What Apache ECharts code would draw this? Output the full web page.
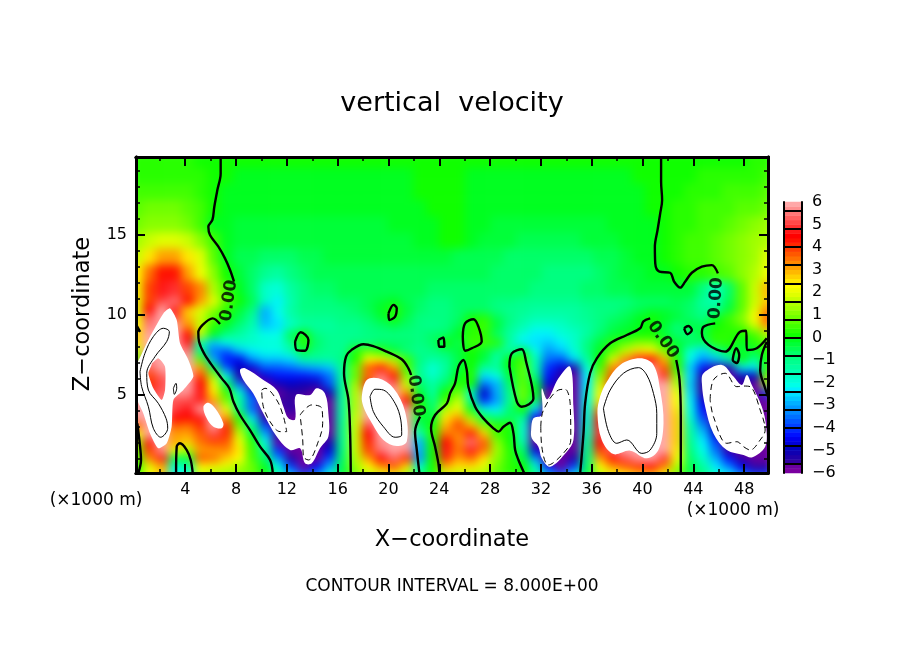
<!DOCTYPE html>
<html>
<head>
<meta charset="utf-8">
<title>vertical velocity</title>
<script src="https://cdn.jsdelivr.net/npm/echarts@6/dist/echarts.min.js"></script>
<style>
html,body{margin:0;padding:0;background:#fff}
#main{width:904px;height:654px}
/* the field layer only: soften the cells, keep it inside the plot frame */
#main canvas[data-zr-dom-id="zr_0"]{filter:blur(5px);clip-path:inset(157px 136px 181px 136px)}
</style>
</head>
<body>
<div id="main"></div>
<script>
// field values, one array per row, 1 km columns. low = z 0.4..10.9 (every 0.5 km)
var low00 = [0.2,2.2,2.8,-2.4,-2.0,1.6,1.2,1.0,1.0,0.6, 0.1,-1.4,-2.8,-4.0,-3.2,-2.0,-0.4,0.8,1.4,1.8, 2.0,1.2,-1.0,0.1,1.6,1.4,1.4,1.2,0.6,0.3, 0.0,-1.2,-2.8,-3.8,-2.4,-0.4,1.4,2.0,2.2,2.6, 2.6,2.0,0.8,-0.4,-1.0,-1.8,-2.4,-3.2,-4.0,-4.0];
var low01 = [0.3,1.8,2.8,-2.0,-1.6,2.2,2.0,1.8,1.2,0.8, -0.2,-2.2,-4.0,-5.8,-4.6,-3.0,-0.6,1.2,2.2,3.0, 3.6,2.4,-2.0,0.1,2.8,2.4,2.4,1.8,0.8,0.3, 0.1,-1.8,-4.4,-5.8,-4.0,-0.8,2.2,3.0,3.6,4.0, 4.4,3.2,1.4,-0.6,-1.4,-2.4,-3.4,-4.6,-5.6,-5.6];
var low02 = [0.4,3.2,4.6,-0.6,-0.4,3.6,3.4,2.6,2.2,0.4, -0.8,-3.2,-5.4,-7,-5.8,-4.0,-0.8,1.4,3.0,4.4, 5.2,4.0,-3.2,0.0,4.0,3.0,3.4,2.4,1.0,0.3, -0.4,-3.2,-5.8,-7,-5.4,-1.0,3.0,4.2,5.0,5.6, 5.8,4.8,2.0,-0.8,-1.8,-3.0,-4.4,-5.6,-5.8,-5.8];
var low03 = [0.6,3.8,5.6,2.0,1.4,3.0,3.0,3.2,2.4,0.4, -1.4,-4.2,-5.8,-7,-5.8,-4.8,-1.0,1.6,3.8,5.4, 5.8,5.6,-3.0,0.0,4.6,3.4,4.6,3.4,1.2,0.3, -0.8,-4.8,-7,-7,-5.8,-1.2,3.8,5.2,5.8,7, 7,5.8,2.4,-1.0,-2.2,-3.6,-5.6,-7,-7,-7];
var low04 = [1.0,4.6,5.8,3.0,2.6,3.4,3.8,3.6,2.0,0.2, -2.2,-5.8,-7,-7,-5.8,-5.4,-1.2,1.6,4.0,5.6, 5.8,5.8,-3.0,0.0,4.4,3.2,5.4,3.6,1.0,0.1, -1.6,-5.8,-7,-7,-7,-1.4,4.4,5.6,7,7, 7,5.8,2.6,-1.2,-2.4,-4.0,-5.8,-7,-7,-7];
var low05 = [2.2,5.8,5.8,3.0,3.0,3.6,5.0,4.0,1.6,-0.4, -3.0,-5.4,-7,-7,-7,-5.8,-1.2,1.6,4.4,5.8, 7,5.8,-1.6,0.3,3.4,3.2,4.2,2.6,0.4,0.1, -1.8,-5.8,-7,-7,-7,-1.6,4.8,5.8,7,7, 7,5.8,2.6,-1.4,-2.8,-4.8,-5.8,-7,-7,-7];
var low06 = [3.6,5.8,7,3.6,3.4,4.0,5.8,4.0,0.8,-1.2, -4.0,-5.8,-7,-7,-7,-5.8,-1.2,1.6,5.0,5.8, 7,5.6,-0.8,0.1,2.8,3.8,2.8,1.0,0.3,0.3, -1.8,-5.8,-7,-7,-7,-1.8,4.6,5.8,7,7, 7,5.8,2.6,-1.6,-3.4,-5.2,-5.8,-7,-7,-5.8];
var low07 = [5.8,7,5.8,4.4,4.4,4.6,5.8,3.0,0.2,-2.6, -5.6,-5.8,-5.8,-7,-7,-5.8,-1.4,1.6,5.8,7, 7,5.8,-0.4,-0.3,2.4,3.0,1.2,-0.6,-1.0,-0.8, -1.2,-4.4,-5.8,-7,-5.8,-2.0,4.0,5.8,7,7, 7,5.8,2.6,-2.0,-4.0,-5.8,-7,-7,-7,-5.8];
var low08 = [5.8,7,5.8,5.0,4.6,5.8,5.6,2.0,-1.4,-3.8, -5.8,-5.8,-5.4,-5.8,-5.8,-5.8,-1.4,1.4,5.8,7, 7,5.6,0.2,-0.8,1.4,2.0,-0.2,-2.2,-2.4,-0.8, 0.0,-2.6,-5.8,-7,-5.8,-2.0,3.2,5.8,7,7, 7,5.8,2.4,-2.2,-4.4,-5.8,-7,-7,-7,-5.8];
var low09 = [5.8,5.6,5.4,5.0,5.0,4.6,3.0,0.8,-1.2,-3.6, -5.8,-5.6,-5.6,-5.8,-5.8,-5.8,-1.4,1.4,5.8,7, 7,4.4,0.0,-1.0,0.4,1.6,-1.2,-4.2,-3.2,-1.2, 0.6,-0.8,-5.8,-5.8,-5.8,-2.2,2.4,5.8,7,7, 7,5.8,2.2,-2.4,-4.8,-5.8,-7,-7,-5.8,-5.8];
var low10 = [5.8,4.8,5.2,5.8,5.6,4.6,2.4,0.4,-2.0,-4.2, -5.8,-5.8,-5.6,-5.6,-5.8,-5.2,-1.4,1.4,5.6,5.8, 5.8,3.0,-0.4,-1.4,0.1,0.8,-1.8,-4.9,-3.0,-1.0, 0.8,-0.2,-5.8,-5.8,-5.8,-2.2,2.0,5.6,7,7, 7,5.8,2.0,-2.6,-5.6,-5.8,-5.8,-5.8,-5.8,-4.0];
var low11 = [5.8,4.0,5.0,5.6,5.8,4.4,2.0,-0.6,-3.6,-5.8, -5.8,-5.2,-5.0,-5.2,-5.2,-3.8,-1.2,1.2,4.6,5.8, 5.2,1.6,-0.8,-1.4,-0.8,0.2,0.1,-3.6,-3.0,-0.8, 0.7,-0.4,-4.8,-5.6,-5.8,-2.4,1.6,4.0,5.8,7, 5.8,5.8,1.4,-2.8,-5.6,-5.8,-5.8,-5.6,-5.8,1.6];
var low12 = [5.8,3.8,5.2,5.8,5.8,3.8,1.2,-2.2,-5.4,-5.8, -4.8,-4.4,-4.4,-4.4,-4.2,-3.6,-1.4,0.6,3.4,5.4, 4.2,1.0,-1.2,-1.8,-1.2,-0.2,0.2,-2.6,-2.2,-0.3, 0.6,-1.0,-4.4,-5.6,-5.8,-2.4,1.0,3.6,5.8,5.8, 5.8,4.8,1.0,-2.6,-5.4,-5.8,-5.8,-5.2,-5.0,0.8];
var low13 = [5.8,5.2,5.8,5.8,5.8,3.0,-0.6,-3.8,-5.0,-4.8, -3.8,-3.8,-3.6,-3.2,-3.0,-2.8,-1.2,0.8,3.6,4.2, 3.0,0.5,-1.2,-2.0,-1.4,-0.4,0.1,-1.4,-1.2,-0.1, 0.6,-1.6,-4.2,-4.8,-5.4,-2.0,0.5,3.2,5.2,5.8, 5.6,3.6,0.3,-2.8,-4.4,-5.6,-5.4,-2.4,-2.4,0.3];
var low14 = [0.6,5.6,5.8,5.8,5.8,0.6,-3.0,-4.4,-4.6,-3.2, -2.8,-2.8,-2.6,-1.6,-1.4,-1.4,-1.0,0.1,2.2,2.2, 1.4,0.4,-1.0,-1.4,-1.2,-0.6,0.1,-0.3,-1.6,0.0, 0.5,-1.6,-3.6,-3.8,-2.6,-1.4,0.1,1.8,3.2,4.6, 4.4,2.8,0.2,-2.2,-3.2,-2.8,-1.8,0.1,-1.2,0.0];
var low15 = [1.6,5.8,5.8,5.8,5.4,-1.0,-3.6,-3.8,-2.8,-2.4, -2.2,-2.2,-1.6,-0.4,-1.0,-1.2,-1.2,0.2,0.6,0.2, -0.4,-0.9,-1.2,-0.9,-0.8,-0.3,0.0,-0.3,-1.0,-1.6, -0.3,-2.2,-3.2,-2.8,-2.0,-1.0,-0.2,0.6,1.6,2.4, 2.2,1.0,-0.2,-2.0,-2.6,-1.4,-0.3,-0.4,-0.4,0.2];
var low16 = [2.4,5.8,7,5.8,4.6,-1.6,-2.8,-2.2,-1.8,-1.8, -2.0,-2.0,-1.2,0.2,-0.8,-1.1,-1.1,-1.0,-0.9,-0.8, -0.8,-0.8,-1.0,-0.8,0.1,-0.5,0.5,0.5,0.2,-1.4, -2.4,-2.6,-2.8,-2.4,-1.8,-1.0,-0.4,0.2,0.6,1.0, 1.0,0.2,-0.3,-0.6,-0.8,0.2,0.3,-0.2,0.3,0.6];
var low17 = [2.6,5.8,7,5.8,4.4,1.6,-0.1,-1.0,-1.4,-1.7, -2.2,-2.2,-0.6,0.1,-1.0,-1.2,-1.2,-1.1,-1.0,-0.9, -0.9,-0.9,-1.0,-0.8,-0.8,-0.2,0.3,0.2,-0.8,-1.4, -2.0,-2.4,-2.4,-2.0,-1.7,-1.3,-0.8,-0.4,-0.1,0.1, 0.1,-0.3,-0.8,-0.9,-0.3,0.3,0.3,0.1,0.4,1.4];
var low18 = [2.2,5.4,5.8,5.8,3.2,1.6,0.2,-0.3,-1.0,-1.6, -2.8,-2.6,-1.8,-1.4,-1.3,-1.3,-1.2,-1.1,-0.9,-0.7, -0.5,-0.7,-1.0,-1.1,-1.0,-0.6,0.3,0.4,-0.4,-1.1, -1.6,-1.9,-2.0,-1.8,-1.6,-1.3,-1.0,-0.6,-0.3,-0.1, 0.0,-0.4,-0.9,-0.4,-0.6,0.1,0.3,0.7,1.6,3.0];
var low19 = [1.9,5.2,5.8,5.0,2.8,1.6,0.6,0.1,-0.6,-1.3, -3.0,-2.4,-1.5,-1.2,-1.1,-1.1,-1.0,-0.9,-0.7,-0.4, 0.0,-0.5,-0.9,-1.0,-1.0,-0.8,0.0,0.2,-0.6,-1.0, -1.4,-1.6,-1.6,-1.5,-1.4,-1.2,-1.0,-0.8,-0.5,-0.2, 0.0,-0.2,-0.4,-0.7,-1.0,-0.2,0.4,1.0,2.2,3.6];
var low20 = [1.8,4.4,5.8,4.6,2.6,1.8,1.0,0.3,-0.3,-1.0, -2.9,-2.2,-1.4,-1.0,-1.0,-1.0,-0.9,-0.8,-0.6,-0.2, 0.2,-0.4,-0.8,-0.9,-0.9,-0.8,-0.7,-0.8,-1.0,-1.1, -1.2,-1.3,-1.4,-1.4,-1.3,-1.1,-1.0,-0.9,-0.8,-0.6, -0.4,-0.4,-0.5,-0.8,-1.2,-1.2,-0.3,0.7,1.8,3.2];
var low21 = [1.8,3.8,5.0,5.4,4.4,3.0,2.0,0.6,0.1,-0.6, -1.8,-2.4,-1.6,-1.0,-0.9,-0.9,-0.8,-0.7,-0.6,-0.4, -0.1,-0.5,-0.8,-0.9,-0.9,-0.8,-0.7,-0.8,-0.9,-1.0, -1.1,-1.1,-1.2,-1.2,-1.1,-1.0,-0.9,-0.9,-0.9,-0.8, -0.8,-0.7,-0.6,-0.8,-1.3,-1.6,-0.6,0.6,1.6,2.6];
// up = z 11.6..19.4 (about every 1 km)
var up0 = [2.0,3.8,4.6,4.8,3.8,3.2,1.4,0.5,-0.2,-0.8, -1.8,-2.0,-1.4,-0.9,-0.8,-0.7,-0.6,-0.6,-0.6,-0.6, -0.5,-0.6,-0.6,-0.7,-0.7,-0.7,-0.7,-0.8,-0.8,-0.8, -0.8,-0.9,-0.9,-0.9,-0.9,-0.8,-0.7,-0.6,-0.5,-0.4, -0.3,-0.3,-0.3,-0.3,-1.0,-1.7,-0.8,0.6,1.6,2.9];
var up1 = [2.2,3.4,4.2,4.2,3.0,2.0,1.0,0.1,-0.4,-0.8, -1.2,-1.3,-1.0,-0.8,-0.6,-0.5,-0.5,-0.5,-0.5,-0.5, -0.5,-0.5,-0.5,-0.5,-0.5,-0.5,-0.6,-0.6,-0.7,-0.7, -0.8,-0.8,-0.9,-1.0,-1.0,-0.9,-0.7,-0.6,-0.4,-0.3, -0.2,-0.1,0.1,0.2,0.3,0.4,0.7,1.0,1.4,2.1];
var up2 = [1.6,2.4,3.0,3.0,2.4,1.8,0.6,-0.1,-0.5,-0.6, -0.8,-0.8,-0.7,-0.6,-0.5,-0.4,-0.4,-0.4,-0.4,-0.4, -0.4,-0.4,-0.4,-0.4,-0.4,-0.5,-0.5,-0.6,-0.6,-0.7, -0.7,-0.7,-0.8,-0.8,-0.8,-0.7,-0.6,-0.5,-0.3,-0.2, -0.1,0.1,0.3,0.4,0.5,0.6,0.8,1.0,1.3,1.8];
var up3 = [1.2,1.6,1.9,1.9,1.6,1.1,0.4,-0.2,-0.3,-0.4, -0.4,-0.4,-0.4,-0.3,-0.3,-0.3,-0.3,-0.3,-0.3,-0.3, -0.3,-0.3,-0.2,-0.1,0.0,0.0,-0.1,-0.3,-0.4,-0.4, -0.5,-0.5,-0.5,-0.5,-0.5,-0.4,-0.4,-0.3,-0.2,-0.1, -0.1,0.1,0.3,0.4,0.5,0.6,0.8,1.0,1.2,1.5];
var up4 = [0.8,1.0,1.1,1.1,0.9,0.4,-0.1,-0.2,-0.3,-0.3, -0.3,-0.3,-0.3,-0.3,-0.3,-0.3,-0.3,-0.3,-0.3,-0.3, -0.2,-0.2,-0.1,-0.1,0.0,0.0,-0.1,-0.2,-0.3,-0.3, -0.3,-0.3,-0.3,-0.3,-0.3,-0.3,-0.3,-0.2,-0.2,-0.1, -0.1,0.1,0.2,0.3,0.4,0.5,0.7,0.8,1.0,1.2];
var up5 = [0.7,0.8,0.8,0.8,0.7,0.5,0.1,-0.1,-0.2,-0.2, -0.2,-0.2,-0.2,-0.2,-0.2,-0.2,-0.2,-0.2,-0.2,-0.2, -0.2,-0.1,-0.1,0.0,0.0,0.0,-0.1,-0.1,-0.2,-0.2, -0.2,-0.2,-0.2,-0.2,-0.2,-0.2,-0.2,-0.2,-0.1,-0.1, 0.0,0.1,0.2,0.3,0.4,0.5,0.5,0.6,0.7,0.9];
var up6 = [0.5,0.5,0.5,0.5,0.4,0.3,0.1,-0.1,-0.1,-0.1, -0.1,-0.1,-0.1,-0.1,-0.1,-0.1,-0.1,-0.1,-0.1,-0.1, -0.1,-0.1,0.0,0.0,0.0,0.0,-0.1,-0.1,-0.1,-0.1, -0.1,-0.1,-0.1,-0.1,-0.1,-0.1,-0.1,-0.1,-0.1,-0.1, 0.0,0.1,0.1,0.2,0.3,0.3,0.4,0.4,0.5,0.6];
var up7 = [0.3,0.3,0.3,0.3,0.2,0.2,0.1,0.0,-0.1,-0.1, -0.1,-0.1,-0.1,-0.1,-0.1,-0.1,-0.1,-0.1,-0.1,-0.1, -0.1,-0.1,0.0,0.0,0.0,0.0,-0.1,-0.1,-0.1,-0.1, -0.1,-0.1,-0.1,-0.1,-0.1,-0.1,-0.1,-0.1,-0.1,0.0, 0.0,0.1,0.1,0.1,0.2,0.2,0.2,0.3,0.3,0.4];
var up8 = [0.2,0.2,0.2,0.2,0.2,0.1,0.1,0.0,0.0,0.0, 0.0,0.0,0.0,0.0,0.0,0.0,0.0,0.0,0.0,0.0, 0.0,0.0,0.0,0.0,0.0,0.0,0.0,0.0,0.0,0.0, 0.0,0.0,0.0,0.0,0.0,0.0,0.0,0.0,0.0,0.0, 0.0,0.0,0.1,0.1,0.1,0.1,0.1,0.1,0.2,0.2];

var lowRows = [low00,low01,low02,low03,low04,low05,low06,low07,low08,low09,low10,low11,low12,low13,low14,low15,low16,low17,low18,low19,low20,low21];
var upRows = [up0,up1,up2,up3,up4,up5,up6,up7,up8];

// colour key, low to high, 0.2 wide each
var keyColors = ['#7a00a0','#6a00a0',
	'#3000a0','#2000a8','#1000b0','#0000c0','#0000d8','#0000f0','#0010ff','#0028ff',
	'#0040ff','#0058ff','#0070ff','#0088ff','#0098ff','#00b0ff','#00c8ff','#00e0ff',
	'#00f0ff','#00ffe8','#00ffd8','#00ffc8','#00ffb0','#00ffa0','#00ff90','#00ff80',
	'#00ff68','#00ff50','#00ff38','#00ff20','#10ff00','#28ff00','#40ff00','#58ff00',
	'#70ff00','#88ff00','#a0ff00','#b0ff00','#c8ff00','#e0ff00','#f0ff00','#ffff00',
	'#ffe800','#ffd000','#ffb800','#ffa000','#ff8800','#ff7000','#ff5800','#ff4000',
	'#ff2800','#ff1000','#ff0000','#ff1818','#ff3030','#ff4848','#ff6060','#ff7878',
	'#ff9090','#ffa8a8'];
var keyLevels = [-5.9,-5.7,-5.5,-5.3,-5.1,-4.9,-4.7,-4.5,-4.3,-4.1,-3.9,-3.7,-3.5,-3.3,-3.1,-2.9,-2.7,-2.5,-2.3,-2.1,-1.9,-1.7,-1.5,-1.3,-1.1,-0.9,-0.7,-0.5,-0.3,-0.1,0.1,0.3,0.5,0.7,0.9,1.1,1.3,1.5,1.7,1.9,2.1,2.3,2.5,2.7,2.9,3.1,3.3,3.5,3.7,3.9,4.1,4.3,4.5,4.7,4.9,5.1,5.3,5.5,5.7,5.9];
var keyBreaks = [-5.6,-4.8,-4,-3.2,-2.4,-1.6,-0.8,0,0.8,1.6,2.4,3.2,4,4.8,5.6];
var keyTicks = [-6,-5,-4,-3,-2,-1,0,1,2,3,4,5,6];

var xMajor = [4,8,12,16,20,24,28,32,36,40,44,48];
var xMinor = [2,6,10,14,18,22,26,30,34,38,42,46];
var zMajor = [5,10,15];
var zMinor = [1,2,3,4,6,7,8,9,11,12,13,14,16,17,18,19];

// zero contour, [x km, z km]
var zeroLines = [
	[[6.79,19.88],[6.79,18.85],[6.53,17.81],[6.29,16.77],[6.14,15.94],[5.82,15.52],[5.95,15.0],[6.61,14.27],[7.13,13.54],[7.53,12.81],[7.84,12.08]],
	[[6.74,9.44],[6.16,9.79],[5.37,9.38],[5.03,8.9],[5.09,8.33],[5.48,7.6],[6.08,6.88],[6.87,6.04],[7.47,5.42],[7.79,4.59],[8.31,3.75],[9.1,2.81],[9.89,1.77],[10.68,0.94],[10.89,0.13]],
	[[3.28,0.13],[3.33,1.77],[3.59,1.98],[4.12,1.56],[4.43,0.94],[4.59,0.13]],
	[[0.23,3.23],[0.39,2.19],[0.52,0.94],[0.31,0.13]],
	[[0.2,9.3],[0.45,8.95]],
	[[17.03,0.13],[16.98,2.6],[16.85,4.69],[16.5,6.36],[16.66,7.4],[17.1,7.82],[18.03,8.17],[18.8,8.06],[19.86,7.71],[21.04,7.23],[21.57,6.67],[21.78,6.25]],
	[[22.49,3.65],[22.09,2.71],[22.23,1.56],[22.43,0.13]],
	[[24,0.13],[23.93,0.73],[23.67,1.77],[23.35,2.92],[23.67,3.75],[24.6,4.48],[24.85,5.1],[25.24,5.73],[25.51,6.77],[25.9,7.19],[26.16,6.56],[26.29,5.52],[26.82,4.27],[27.47,3.54],[28.26,2.92],[28.66,2.71],[29.05,3.02],[29.57,3.27],[29.84,2.6],[29.97,1.56],[30.23,0.94],[30.68,0.13]],
	[[25.85,8.65],[26.03,9.48],[26.69,9.73],[27.08,9.27],[27.34,8.34],[26.56,7.92],[26.03,7.77],[25.85,8.65]],
	[[29.52,6.77],[29.71,7.6],[30.49,7.86],[30.83,7.09],[31.41,4.79],[30.49,4.27],[30.1,4.58],[29.52,6.77]],
	[[35.09,0.13],[35.35,2.6],[35.48,4.48],[35.87,6.36],[36.4,7.29],[37.45,8.23],[38.76,8.75],[39.81,9.17],[40.07,9.6],[40.6,9.79]],
	[[42.65,7.19],[42.91,5.94],[43.01,3.65],[43.01,0.13]],
	[[43.27,9.17],[43.6,9.31],[43.88,9.06],[43.54,8.8],[43.27,9.17]],
	[[41.46,19.88],[41.46,18.33],[41.54,17.19],[41.39,16.35],[41.18,15.31],[40.97,14.27],[41,13.23],[41.33,12.71],[42.17,12.64],[42.49,12.08],[42.96,11.71],[43.35,12.08],[43.88,12.64],[44.67,13.02],[45.45,13.12],[45.93,12.6]],
	[[45.72,9.48],[44.8,9.27],[44.67,8.86],[45.19,8.13],[46.5,7.71],[47.68,8.96],[48.16,9.02],[48.21,7.81],[48.99,7.92],[49.78,8.54]],
	[[49.78,8.33],[49.39,7.5],[49.26,6.56],[49.65,5.42],[49.87,4.9]],
	[[47.16,7.5],[47.37,7.92],[47.61,7.5],[47.42,7],[47.1,7.19],[47.16,7.5]],
	[[12.65,8.34],[13.09,8.92],[13.7,8.44],[13.43,7.77],[12.78,7.81],[12.65,8.34]],
	[[20,10.1],[20.4,10.63],[20.65,10.42],[20.52,9.9],[20.07,9.69],[20,10.1]],
	[[23.93,8.44],[24.32,8.59],[24.4,8.02],[24,8.02],[23.93,8.44]]
];
// +8 contour, thin solid
var plusLines = [
	[[0.44,6.46],[0.83,7.61],[1.49,8.65],[2.28,9.17],[2.75,8.96],[2.54,8.34],[1.62,7.4],[0.97,6.36],[1.1,5.31],[1.88,4.48],[2.49,3.54],[2.62,2.92],[2.07,2.36],[1.49,2.92],[1.1,4.27],[0.57,5.52],[0.44,6.46]],
	[[3.07,5.42],[3.27,5.73],[3.33,5.42],[3.14,5.04],[3.07,5.42]],
	[[18.55,4.9],[18.94,5.36],[19.6,5.31],[20.52,4.48],[20.97,3.44],[21.04,2.5],[20.52,2.36],[19.6,3.02],[18.81,3.96],[18.55,4.9]],
	[[36.92,4.17],[37.45,5.31],[38.5,6.36],[39.68,6.71],[40.33,6.25],[40.86,5.1],[41.12,3.85],[41.12,2.6],[40.6,1.56],[39.94,1.35],[38.76,2.19],[37.97,1.98],[37.32,2.71],[36.92,4.17]]
];
// -8 contour, thin dashed
var minusLines = [
	[[10.02,5.31],[10.28,5.42],[11.2,4.69],[11.73,3.65],[11.99,2.71],[11.47,2.71],[10.68,3.33],[10.15,4.27],[10.02,5.31]],
	[[13.04,3.75],[13.96,4.38],[14.75,4.17],[14.82,3.23],[14.48,2.1],[13.7,0.94],[13.3,1.15],[13.25,2.19],[13.04,3.75]],
	[[31.99,3.02],[32.2,4.06],[33.38,5.31],[33.9,5.36],[34.3,4.48],[34.35,2.19],[33.77,1.36],[32.59,0.63],[32.07,1.77],[31.99,3.02]],
	[[45.32,4.69],[45.58,5.94],[46.5,6.36],[47.42,5.52],[47.95,5.56],[48.47,5.52],[49.26,4.06],[49.65,2.81],[49.26,2.19],[48.47,1.56],[47.95,1.77],[47.42,2.08],[46.63,1.98],[45.58,3.65],[45.32,4.69]]
];
// areas past the key range (left white), the first one has a hole
var whiteAreas = [
	[[0.13,4.9],[0.13,7],[1.36,6.98],[1.1,6.36],[1.49,5.42],[2.15,4.69],[2.41,5.31],[2.41,6.77],[1.88,7.29],[1.36,6.98],[0.13,7],[0.23,7],[1.23,8.65],[2.28,10.1],[2.8,10.42],[3.33,9.69],[3.59,8.23],[4.25,7.19],[4.64,6.15],[3.85,5.31],[3.07,4.69],[2.93,3.02],[2.54,1.98],[1.88,1.67],[1.23,2.6],[0.7,3.85]],
	[[5.43,4.27],[5.82,4.52],[6.35,4.17],[7,3.23],[6.87,2.92],[6.22,3.02],[5.69,3.54]],
	[[8.31,6.56],[8.71,6.67],[10.15,5.94],[11.2,5.31],[11.73,4.27],[12.12,3.54],[12.65,3.48],[12.72,5],[13.83,5],[14.35,5.42],[15,5.1],[15.27,3.85],[15.27,2.4],[14.61,1.67],[13.96,0.73],[13.43,0.73],[13.04,1.67],[12.25,1.56],[11.2,2.4],[10.15,3.85],[9.36,5.1],[8.58,5.94]],
	[[17.9,4.9],[18.29,5.94],[19.21,6.04],[20.39,5.42],[21.31,3.96],[21.44,2.1],[20.65,1.81],[19.6,2.19],[18.55,3.44],[18.03,4.27]],
	[[31.23,2.81],[31.41,3.54],[32.07,3.75],[32.07,5.42],[32.51,4.73],[33.38,6.04],[34.3,6.77],[34.56,4.27],[34.56,2.19],[34.04,1.46],[32.72,0.52],[32.07,1.04],[31.8,1.77],[31.28,2.29]],
	[[36.45,3.86],[36.66,4.9],[37.19,5.83],[38.24,6.88],[39.81,7.29],[40.86,6.88],[41.39,5.31],[41.65,3.23],[41.25,1.56],[40.34,1.04],[39.02,1.52],[37.71,1.31],[36.79,2.19]],
	[[44.67,5.73],[44.8,6.36],[46.24,6.88],[47.16,6.15],[47.81,5.63],[48.21,6.25],[48.6,5.63],[49.39,4.27],[49.73,3.02],[49.65,1.77],[48.6,1.1],[47.95,1.25],[46.63,1.56],[45.58,2.6],[44.93,4.27]]
];
// 0.00 contour labels: x, z, rotation
var zeroLabels = [[7.45,10.9,82],[22.15,4.95,-82],[41.6,8.45,-55],[45.8,11.05,86]];

var FONT = 'DejaVu Sans';

function indexList(n) {
	var a = [];
	for (var i = 0; i < n; i++) a.push(i);
	return a;
}
function heatData(rows) {
	var d = [];
	for (var r = 0; r < rows.length; r++) {
		for (var c = 0; c < rows[r].length; c++) d.push([c, r, rows[r][c]]);
	}
	return d;
}
var pieces = keyColors.map(function(col, i) {
	return {gte: -6 + i * 0.2 - 1e-6, lt: -6 + (i + 1) * 0.2 - 1e-6, color: col};
});
// past the key the white comes from whiteAreas, here just keep the end colours
pieces.push({lt: -6, color: keyColors[1]});
pieces.push({gte: 6, color: keyColors[59]});

var minusFmt = function(v) { return v < 0 ? '\u2212' + (-v) : '' + v; };

// value axes round the plot: major + minor ticks on all four sides
function valueAxis(pos, top, ticks, len, labels) {
	return {type: 'value', gridIndex: 0, position: pos, min: 0.125, max: top, z: 10, zlevel: 1,
		splitLine: {show: false},
		axisLine: {show: true, onZero: false, lineStyle: {color: '#000', width: 3}},
		axisTick: {show: true, inside: true, length: len, customValues: ticks, lineStyle: {color: '#000', width: len > 5 ? 2 : 1.5}},
		axisLabel: labels ? {show: true, customValues: ticks, margin: 9, fontSize: 16, color: '#000', fontFamily: FONT} : {show: false}};
}
function hiddenCat(grid, n) {
	return {type: 'category', gridIndex: grid, data: indexList(n), show: false, boundaryGap: true};
}

var xAxes = [
	valueAxis('bottom', 49.875, xMajor, 9, true),
	valueAxis('bottom', 49.875, xMinor, 4, false),
	valueAxis('top', 49.875, xMajor, 9, false),
	valueAxis('top', 49.875, xMinor, 4, false),
	hiddenCat(1, 50),
	hiddenCat(2, 50),
	{type: 'category', gridIndex: 3, data: ['k'], position: 'bottom', axisTick: {show: false}, axisLabel: {show: false}, axisLine: {lineStyle: {color: '#000', width: 2}}, z: 10, zlevel: 1},
	{type: 'category', gridIndex: 3, data: ['k'], position: 'top', axisTick: {show: false}, axisLabel: {show: false}, axisLine: {lineStyle: {color: '#000', width: 2}}, z: 10, zlevel: 1}
];
var yAxes = [
	valueAxis('left', 19.875, zMajor, 9, true),
	valueAxis('left', 19.875, zMinor, 4, false),
	valueAxis('right', 19.875, zMajor, 9, false),
	valueAxis('right', 19.875, zMinor, 4, false),
	hiddenCat(1, lowRows.length),
	hiddenCat(2, upRows.length),
	{type: 'category', gridIndex: 3, data: indexList(keyLevels.length), show: false},
	{type: 'value', gridIndex: 3, position: 'right', min: -6, max: 6, z: 10, zlevel: 1,
		splitLine: {show: false},
		axisLine: {show: true, onZero: false, lineStyle: {color: '#000', width: 2}},
		axisTick: {show: true, inside: true, length: 18, customValues: keyBreaks, lineStyle: {color: '#000', width: 2}},
		axisLabel: {show: true, customValues: keyTicks, margin: 10, fontSize: 16, color: '#000', fontFamily: FONT, formatter: minusFmt}},
	{type: 'value', gridIndex: 3, position: 'left', min: -6, max: 6, z: 10, zlevel: 1,
		splitLine: {show: false},
		axisLine: {show: true, onZero: false, lineStyle: {color: '#000', width: 2}},
		axisTick: {show: false}, axisLabel: {show: false}}
];

var series = [
	{type: 'heatmap', xAxisIndex: 4, yAxisIndex: 4, data: heatData(lowRows), z: 1, zlevel: 0, progressive: 0, animation: false},
	{type: 'heatmap', xAxisIndex: 5, yAxisIndex: 5, data: heatData(upRows), z: 1, zlevel: 0, progressive: 0, animation: false},
	{type: 'heatmap', xAxisIndex: 6, yAxisIndex: 6, z: 1, zlevel: 1, animation: false,
		data: keyLevels.map(function(v, i) { return [0, i, v]; })},
	{type: 'custom', xAxisIndex: 0, yAxisIndex: 0, z: 2, zlevel: 1, silent: true, animation: false,
		data: whiteAreas.map(function(p, i) { return [i]; }),
		encode: {x: -1, y: -1},
		renderItem: function(params, api) {
			var pts = whiteAreas[params.dataIndex].map(function(p) { return api.coord(p); });
			return {type: 'polygon', shape: {points: pts, smooth: params.dataIndex === 0 ? 0.2 : 0.35}, style: {fill: '#fff'}};
		}}
];
function addLines(list, width, dash) {
	list.forEach(function(pts) {
		series.push({type: 'line', xAxisIndex: 0, yAxisIndex: 0, data: pts, showSymbol: false, symbol: 'none', z: 3, zlevel: 1,
			silent: true, animation: false, clip: true, smooth: 0.35,
			lineStyle: {color: '#000', width: width, type: dash}});
	});
}
addLines(zeroLines, 2.4, 'solid');
addLines(plusLines, 1, 'solid');
addLines(minusLines, 1, [6, 4]);
series.push({type: 'scatter', xAxisIndex: 0, yAxisIndex: 0, symbolSize: 1, z: 4, zlevel: 1, silent: true, animation: false,
	itemStyle: {color: 'transparent'},
	data: zeroLabels.map(function(p) {
		return {value: [p[0], p[1]], label: {rotate: p[2]}};
	}),
	label: {show: true, position: 'inside', formatter: '0.00', fontSize: 17, fontWeight: 'bold', fontFamily: FONT, color: '#000'}});

function txt(x, y, s, size, rot) {
	return {type: 'text', x: x, y: y, rotation: rot || 0, z: 20, zlevel: 1,
		style: {text: s, fontSize: size, fontFamily: FONT, fill: '#000', align: 'center', verticalAlign: 'middle'}};
}

var vChart = echarts.init(document.getElementById('main'), null, {renderer: 'canvas', devicePixelRatio: 1});
vChart.setOption({
	animation: false,
	backgroundColor: '#fff',
	grid: [
		{left: 136, top: 157, width: 632, height: 316},
		{left: 130, top: 297, width: 644, height: 182},
		{left: 130, top: 151, width: 644, height: 146},
		{left: 784, top: 202, width: 18, height: 271}
	],
	xAxis: xAxes,
	yAxis: yAxes,
	visualMap: {type: 'piecewise', show: false, dimension: 2, seriesIndex: [0, 1, 2], pieces: pieces},
	series: series,
	graphic: [
		txt(452, 104, 'vertical  velocity', 27),
		txt(452, 540, 'X\u2212coordinate', 22.5),
		txt(83, 314, 'Z\u2212coordinate', 22.5, Math.PI / 2),
		txt(96, 501, '(\u00d71000 m)', 17),
		txt(733, 511, '(\u00d71000 m)', 17),
		txt(452, 587, 'CONTOUR INTERVAL = 8.000E+00', 17)
	]
});
</script>
</body>
</html>
